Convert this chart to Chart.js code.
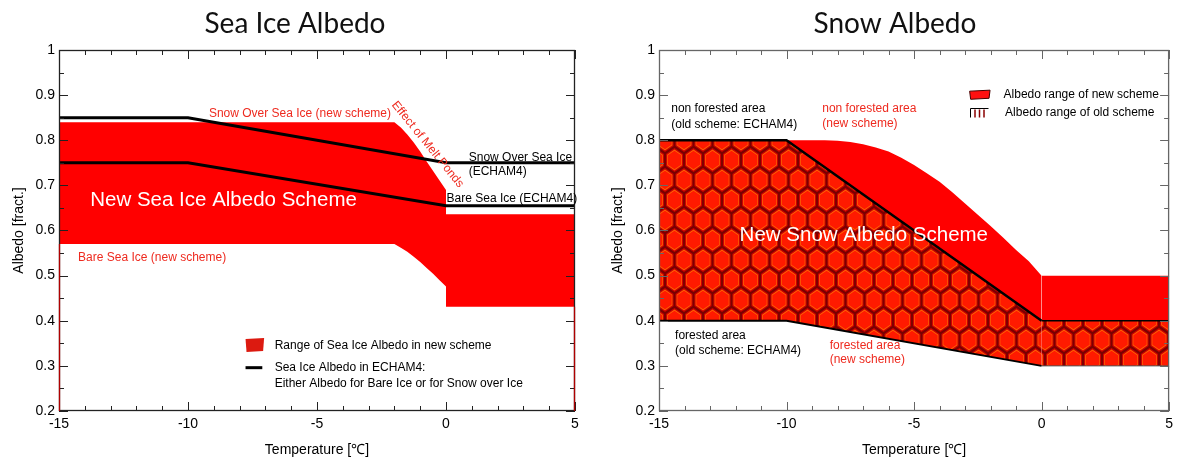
<!DOCTYPE html>
<html>
<head>
<meta charset="utf-8">
<title>Sea Ice Albedo / Snow Albedo</title>
<script src="https://cdn.jsdelivr.net/npm/chart.js@4"></script>
<style>
  html, body { margin: 0; padding: 0; background: #fff; }
  #wrap { position: relative; width: 1178px; height: 459px; }
  canvas { position: absolute; top: 0; }
  #seaIce { left: 0; }
  #snow { left: 589px; }
</style>
</head>
<body>
<div id="wrap">
  <canvas id="seaIce" width="589" height="459"></canvas>
  <canvas id="snow" width="589" height="459"></canvas>
</div>
<script>
// temperature [°C] vs albedo [fract.]
const xTicks = [-15, -10, -5, 0, 5];
const yTicks = [0.2, 0.3, 0.4, 0.5, 0.6, 0.7, 0.8, 0.9, 1];

// sea ice, ECHAM4
const echamTemp = [-15, -10, 0, 5];
const snowOverIceEcham = [0.85, 0.85, 0.75, 0.75];
const bareIceEcham = [0.75, 0.75, 0.655, 0.655];

// sea ice, new scheme (upper = snow over ice, lower = bare ice, melt ponds near 0°C)
const newIceTemp = [-15, -2, -1.75, -1.5, -1.25, -1, -0.75, -0.5, -0.25, 0, 0, 5];
const newIceTop = [0.84, 0.84, 0.828, 0.813, 0.795, 0.775, 0.753, 0.732, 0.711, 0.69, 0.636, 0.636];
const newIceBottom = [0.57, 0.57, 0.562, 0.553, 0.542, 0.53, 0.517, 0.504, 0.49, 0.476, 0.431, 0.431];

// snow, old scheme (ECHAM4): non forested / forested
const snowOldTemp = [-15, -10, 0, 5];
const snowOldTop = [0.8, 0.8, 0.4, 0.4];
const snowOldBottom = [0.4, 0.4, 0.3, 0.3];

// snow, new scheme: non forested upper bound
const snowNewTemp = [-15, -8.5, -8, -7.5, -7, -6.5, -6, -5.5, -5, -4.5, -4, -3.5, -3, -2.5, -2, -1.5, -1, -0.5, 0, 5];
const snowNewTop = [0.8, 0.8, 0.799, 0.796, 0.791, 0.784, 0.775, 0.761, 0.745, 0.727, 0.708, 0.685, 0.66, 0.635, 0.61, 0.584, 0.557, 0.532, 0.5, 0.5];

const RED = '#ee2a1f';
const FONT = '"Liberation Sans", Arial, sans-serif';
Chart.defaults.font.family = FONT;

function pairs(xs, ys) {
  return xs.map((x, i) => ({ x: x, y: ys[i] }));
}

// honeycomb fill for the old scheme range
function hexPattern() {
  const w = 19, h = 40, hw = 9.5, rv = 13.33;
  const c = document.createElement('canvas');
  c.width = w; c.height = h;
  const g = c.getContext('2d');
  g.fillStyle = '#7a0000';
  g.fillRect(0, 0, w, h);
  const centres = [[w / 2, 0], [w / 2, h], [0, h / 2], [w, h / 2]];
  const layers = [[0.9, '#cc0000'], [0.78, '#ff6400'], [0.7, '#ff1a00']];
  layers.forEach(([s, col]) => {
    g.fillStyle = col;
    centres.forEach(([cx, cy]) => {
      g.beginPath();
      g.moveTo(cx, cy - rv * s);
      g.lineTo(cx + hw * s, cy - rv * s / 2);
      g.lineTo(cx + hw * s, cy + rv * s / 2);
      g.lineTo(cx, cy + rv * s);
      g.lineTo(cx - hw * s, cy + rv * s / 2);
      g.lineTo(cx - hw * s, cy - rv * s / 2);
      g.closePath();
      g.fill();
    });
  });
  return g.createPattern(c, 'repeat');
}
const honeycomb = hexPattern();

// box frame with inward ticks on all four sides
function frameTicks(color, extra) {
  return {
    id: 'frameTicks',
    afterDatasetsDraw(chart) {
      const { ctx, chartArea: a, scales: { x, y } } = chart;
      ctx.save();
      ctx.strokeStyle = color;
      ctx.lineWidth = 1;
      ctx.beginPath();
      for (let v = -15; v <= 5; v++) {
        const px = Math.round(x.getPixelForValue(v)) + 0.5;
        const len = v % 5 === 0 ? 9 : 5;
        ctx.moveTo(px, a.top); ctx.lineTo(px, a.top + len);
        ctx.moveTo(px, a.bottom); ctx.lineTo(px, a.bottom - len);
      }
      for (let k = 0; k <= 16; k++) {
        const py = Math.round(y.getPixelForValue(0.2 + k * 0.05)) + 0.5;
        const len = k % 2 === 0 ? 9 : 5;
        ctx.moveTo(a.left, py); ctx.lineTo(a.left + len, py);
        ctx.moveTo(a.right, py); ctx.lineTo(a.right - len, py);
      }
      ctx.stroke();
      ctx.lineWidth = 1.3;
      ctx.strokeRect(a.left + 0.5, a.top + 0.5, a.width - 1, a.height - 1);
      if (extra) extra(ctx, x, y, a);
      ctx.restore();
    }
  };
}

// title, in-plot notes and hand drawn legend
function overlay(title, titleX, notes, legend) {
  return {
    id: 'overlay',
    afterDraw(chart) {
      const { ctx, scales: { x, y } } = chart;
      ctx.save();
      ctx.fillStyle = '#111';
      ctx.font = '28px Lato, sans-serif';
      ctx.textAlign = 'center';
      ctx.textBaseline = 'alphabetic';
      ctx.fillText(title, titleX, 33);
      ctx.textAlign = 'left';
      ctx.textBaseline = 'middle';
      notes.forEach(n => {
        ctx.save();
        ctx.font = (n.size || 12) + 'px ' + FONT;
        ctx.fillStyle = n.color;
        ctx.translate(x.getPixelForValue(n.x), y.getPixelForValue(n.y));
        if (n.angle) ctx.rotate(n.angle * Math.PI / 180);
        ctx.fillText(n.text, 0, 0);
        ctx.restore();
      });
      legend(ctx, x, y);
      ctx.restore();
    }
  };
}

function axes(yWidth, yTitlePad) {
  const tickFont = { family: FONT, size: 14 };
  return {
    x: {
      type: 'linear', min: -15, max: 5,
      grid: { display: false, drawTicks: false }, border: { display: false },
      ticks: { color: '#000', font: tickFont, padding: 5, maxRotation: 0, autoSkip: false },
      afterBuildTicks: s => { s.ticks = xTicks.map(v => ({ value: v })); },
      title: { display: true, text: 'Temperature [℃]', color: '#000', font: tickFont, padding: { top: 0, bottom: 0 } },
      afterFit: s => { s.height = 48; }
    },
    y: {
      type: 'linear', min: 0.2, max: 1,
      grid: { display: false, drawTicks: false }, border: { display: false },
      ticks: { color: '#000', font: tickFont, padding: 4, callback: v => String(+v.toFixed(1)) },
      afterBuildTicks: s => { s.ticks = yTicks.map(v => ({ value: v })); },
      title: { display: true, text: 'Albedo [fract.]', color: '#000', font: tickFont, padding: { top: yTitlePad, bottom: 0 } },
      afterFit: s => { s.width = yWidth; }
    }
  };
}

const seaIceNotes = [
  { text: 'Snow Over Sea Ice (new scheme)', x: -9.19, y: 0.858, color: RED },
  { text: 'Effect of Melt Ponds', x: -2.02, y: 0.883, color: RED, angle: 51 },
  { text: 'Snow Over Sea Ice', x: 0.88, y: 0.762, color: '#000' },
  { text: '(ECHAM4)', x: 0.88, y: 0.73, color: '#000' },
  { text: 'Bare Sea Ice (ECHAM4)', x: 0.02, y: 0.671, color: '#000' },
  { text: 'New Sea Ice Albedo Scheme', x: -13.79, y: 0.666, color: '#fff', size: 20.5 },
  { text: 'Bare Sea Ice (new scheme)', x: -14.26, y: 0.54, color: RED },
  { text: 'Range of Sea Ice Albedo in new scheme', x: -6.64, y: 0.345, color: '#000' },
  { text: 'Sea Ice Albedo in ECHAM4:', x: -6.64, y: 0.296, color: '#000' },
  { text: 'Either Albedo for Bare Ice or for Snow over Ice', x: -6.64, y: 0.261, color: '#000' }
];

function seaIceLegend(ctx, x, y) {
  const l = x.getPixelForValue(-7.77), r = x.getPixelForValue(-7.05);
  const t = y.getPixelForValue(0.362), b = y.getPixelForValue(0.333);
  ctx.fillStyle = '#dc1a10';
  ctx.beginPath();
  ctx.moveTo(l, t + 1); ctx.lineTo(r, t); ctx.lineTo(r - 1, b); ctx.lineTo(l + 1, b + 1);
  ctx.closePath();
  ctx.fill();
  ctx.strokeStyle = '#000';
  ctx.lineWidth = 3;
  ctx.beginPath();
  ctx.moveTo(l, y.getPixelForValue(0.296));
  ctx.lineTo(x.getPixelForValue(-7.12), y.getPixelForValue(0.296));
  ctx.stroke();
}

const snowNotes = [
  { text: 'non forested area', x: -14.52, y: 0.869, color: '#000' },
  { text: '(old scheme: ECHAM4)', x: -14.52, y: 0.835, color: '#000' },
  { text: 'non forested area', x: -8.6, y: 0.869, color: RED },
  { text: '(new scheme)', x: -8.6, y: 0.836, color: RED },
  { text: 'Albedo range of new scheme', x: -1.49, y: 0.902, color: '#000' },
  { text: 'Albedo range of old scheme', x: -1.43, y: 0.86, color: '#000' },
  { text: 'New Snow Albedo Scheme', x: -11.84, y: 0.59, color: '#fff', size: 20.5 },
  { text: 'forested area', x: -14.37, y: 0.366, color: '#000' },
  { text: '(old scheme: ECHAM4)', x: -14.37, y: 0.334, color: '#000' },
  { text: 'forested area', x: -8.31, y: 0.345, color: RED },
  { text: '(new scheme)', x: -8.31, y: 0.313, color: RED }
];

function snowLegend(ctx, x, y) {
  let l = x.getPixelForValue(-2.82), r = x.getPixelForValue(-2.02);
  let t = y.getPixelForValue(0.911), b = y.getPixelForValue(0.893);
  ctx.fillStyle = '#ff1010';
  ctx.strokeStyle = '#400';
  ctx.lineWidth = 1;
  ctx.beginPath();
  ctx.moveTo(l, t + 1); ctx.lineTo(r, t); ctx.lineTo(r - 1, b); ctx.lineTo(l + 1, b + 1);
  ctx.closePath();
  ctx.fill();
  ctx.stroke();
  l = Math.round(x.getPixelForValue(-2.8)) + 0.5; r = Math.round(x.getPixelForValue(-2.11)) + 0.5;
  t = Math.round(y.getPixelForValue(0.871)) + 0.5; b = Math.round(y.getPixelForValue(0.851)) + 0.5;
  ctx.fillStyle = '#fff';
  ctx.fillRect(l, t, r - l, b - t);
  ctx.strokeStyle = '#8a0000';
  ctx.lineWidth = 1.5;
  ctx.beginPath();
  for (let i = 1; i < 4; i++) {
    const px = l + (r - l) * i / 4;
    ctx.moveTo(px, t + 1); ctx.lineTo(px, b);
  }
  ctx.stroke();
  ctx.strokeStyle = '#000';
  ctx.lineWidth = 1;
  ctx.beginPath();
  ctx.moveTo(l, b); ctx.lineTo(l, t); ctx.lineTo(r, t);
  ctx.stroke();
}

// red edge where the new scheme range meets the left and right frame
function seaIceEdges(ctx, x, y, a) {
  ctx.strokeStyle = '#b00000';
  ctx.lineWidth = 1.3;
  ctx.beginPath();
  ctx.moveTo(a.left + 0.5, a.bottom); ctx.lineTo(a.left + 0.5, y.getPixelForValue(newIceBottom[0]));
  ctx.moveTo(a.right - 0.5, a.bottom); ctx.lineTo(a.right - 0.5, y.getPixelForValue(newIceBottom[newIceBottom.length - 1]));
  ctx.stroke();
}

const hidden = 'rgba(0,0,0,0)';

new Chart(document.getElementById('seaIce'), {
  type: 'line',
  data: {
    datasets: [
      { label: 'Snow Over Sea Ice (ECHAM4)', data: pairs(echamTemp, snowOverIceEcham),
        borderColor: '#000', borderWidth: 3, pointRadius: 0, fill: false, order: 0 },
      { label: 'Bare Sea Ice (ECHAM4)', data: pairs(echamTemp, bareIceEcham),
        borderColor: '#000', borderWidth: 3, pointRadius: 0, fill: false, order: 0 },
      { label: 'Snow Over Sea Ice (new scheme)', data: pairs(newIceTemp, newIceTop),
        borderColor: hidden, borderWidth: 0, pointRadius: 0, backgroundColor: '#ff0000', fill: 3, order: 1 },
      { label: 'Bare Sea Ice (new scheme)', data: pairs(newIceTemp, newIceBottom),
        borderColor: hidden, borderWidth: 0, pointRadius: 0, fill: false, order: 1 }
    ]
  },
  options: {
    responsive: false,
    animation: false,
    layout: { padding: { top: 50, right: 14, left: 0, bottom: 0 } },
    plugins: { legend: { display: false }, tooltip: { enabled: false } },
    scales: axes(59, 10.5)
  },
  plugins: [frameTicks('#222', seaIceEdges), overlay('Sea Ice Albedo', 295, seaIceNotes, seaIceLegend)]
});

new Chart(document.getElementById('snow'), {
  type: 'line',
  data: {
    datasets: [
      { label: 'Albedo range of new scheme', data: pairs(snowNewTemp, snowNewTop),
        borderColor: hidden, borderWidth: 0, pointRadius: 0, backgroundColor: '#ff0000', fill: 2, order: 3 },
      { label: 'Albedo range of old scheme', data: pairs(snowOldTemp, snowOldTop),
        borderColor: '#000', borderWidth: 2, pointRadius: 0, backgroundColor: honeycomb, fill: 2, order: 2,
        segment: { borderWidth: c => c.p0.parsed.x >= 0 ? 1.5 : 2.5 } },
      { label: 'forested area', data: pairs(snowOldTemp, snowOldBottom),
        borderColor: '#000', borderWidth: 2, pointRadius: 0, fill: false, order: 1,
        segment: { borderWidth: c => c.p0.parsed.x >= 0 ? 1 : 2, borderColor: c => c.p0.parsed.x >= 0 ? '#555' : '#000' } }
    ]
  },
  options: {
    responsive: false,
    animation: false,
    layout: { padding: { top: 50, right: 4, left: 0, bottom: 0 } },
    plugins: { legend: { display: false }, tooltip: { enabled: false } },
    scales: axes(70, 20.5)
  },
  plugins: [frameTicks('#666'), overlay('Snow Albedo', 306, snowNotes, snowLegend)]
});
</script>
</body>
</html>
